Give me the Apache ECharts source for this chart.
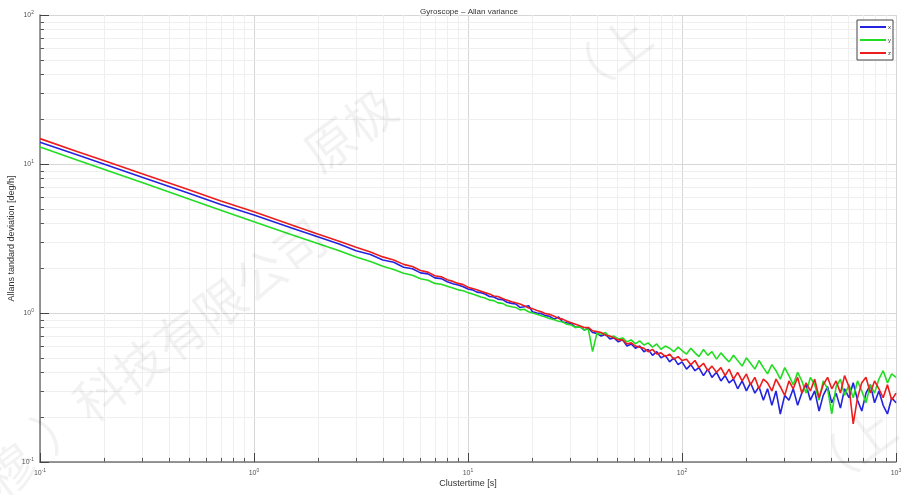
<!DOCTYPE html>
<html><head><meta charset="utf-8">
<script src="https://cdn.jsdelivr.net/npm/echarts@6/dist/echarts.min.js"></script>
<style>html,body{margin:0;padding:0;background:#fff}#c{width:901px;height:495px}</style>
</head><body><div id="c"></div>
<script>
const tau = [0.1,0.15,0.2,0.3,0.5,0.7,1,1.5,2,2.5,
3,3.5,4,4.5,5,5.5,6,6.5,7,7.5,8,8.5,9,9.5,
10,10.5,11,11.5,12,12.6,13.2,13.8,14.5,15.2,
16,16.7,17.5,18.3,19.2,20,21,22,23,24,
25.3,26.5,27.7,29,30.4,31.8,33.3,34.9,36.5,38.2,
40,41.9,43.9,46,48.1,50.4,52.8,55.3,57.9,60.6,
63.4,66.4,69.5,72.8,76.2,79.8,83.6,87.5,91.6,95.9,
100,105,110,115,120,126,132,138,145,152,
159,166,174,182,191,200,209,219,229,240,
251,263,275,288,302,316,331,347,363,380,
398,417,437,457,479,501,525,550,575,603,
631,661,692,724,759,794,832,871,912,955,
1000];
const devX = [14.0,11.5,9.95,8.15,6.35,5.35,4.55,3.72,3.24,2.90,
2.62,2.47,2.27,2.19,2.03,1.98,1.86,1.83,1.72,1.70,1.62,1.57,1.54,1.50,
1.45,1.43,1.38,1.37,1.34,1.29,1.28,1.24,1.23,1.18,
1.16,1.15,1.09,1.10,1.12,1.02,1.00,0.99,0.96,0.95,
0.91,0.94,0.87,0.86,0.85,0.80,0.81,0.77,0.79,0.74,
0.73,0.70,0.72,0.67,0.68,0.64,0.66,0.60,0.62,0.58,
0.60,0.55,0.57,0.52,0.55,0.50,0.52,0.47,0.50,0.45,
0.47,0.42,0.45,0.41,0.43,0.38,0.42,0.37,0.40,0.35,
0.38,0.34,0.36,0.31,0.35,0.30,0.34,0.29,0.32,0.26,
0.31,0.24,0.30,0.21,0.28,0.26,0.31,0.24,0.29,0.33,
0.26,0.30,0.22,0.28,0.32,0.25,0.29,0.23,0.31,0.27,
0.34,0.26,0.22,0.29,0.33,0.25,0.30,0.24,0.21,0.27,
0.25];
const devY = [13.0,10.6,9.2,7.5,5.8,4.9,4.1,3.35,2.92,2.62,
2.38,2.22,2.06,1.96,1.85,1.79,1.70,1.66,1.58,1.56,1.51,1.47,1.43,1.41,
1.37,1.34,1.31,1.28,1.26,1.22,1.21,1.17,1.16,1.12,
1.10,1.09,1.05,1.06,1.02,1.00,0.98,0.96,0.94,0.92,
0.90,0.88,0.87,0.84,0.83,0.80,0.81,0.77,0.78,0.55,
0.73,0.72,0.74,0.69,0.70,0.67,0.68,0.64,0.66,0.62,
0.65,0.61,0.63,0.59,0.62,0.57,0.60,0.58,0.55,0.59,
0.56,0.53,0.58,0.54,0.51,0.57,0.52,0.55,0.49,0.54,
0.50,0.47,0.52,0.48,0.44,0.50,0.46,0.42,0.48,0.43,
0.39,0.45,0.41,0.36,0.43,0.38,0.33,0.40,0.35,0.29,
0.37,0.33,0.26,0.35,0.31,0.21,0.32,0.36,0.28,0.33,
0.27,0.35,0.30,0.25,0.33,0.29,0.36,0.41,0.34,0.39,
0.37];
const devZ = [14.8,12.1,10.5,8.6,6.7,5.65,4.78,3.90,3.38,3.03,
2.76,2.57,2.38,2.27,2.12,2.05,1.93,1.88,1.78,1.75,1.67,1.63,1.58,1.55,
1.49,1.46,1.43,1.40,1.37,1.34,1.30,1.29,1.25,1.22,
1.19,1.17,1.15,1.12,1.08,1.07,1.04,1.02,0.99,0.98,
0.95,0.92,0.91,0.88,0.86,0.84,0.82,0.80,0.80,0.76,
0.75,0.74,0.71,0.70,0.68,0.66,0.66,0.62,0.63,0.60,
0.59,0.58,0.55,0.57,0.53,0.54,0.51,0.53,0.49,0.51,
0.48,0.49,0.45,0.48,0.43,0.46,0.41,0.44,0.40,0.43,
0.38,0.42,0.36,0.40,0.35,0.39,0.33,0.37,0.31,0.36,
0.34,0.30,0.36,0.32,0.28,0.35,0.31,0.37,0.29,0.34,
0.30,0.36,0.27,0.33,0.37,0.31,0.35,0.29,0.38,0.32,
0.18,0.27,0.34,0.37,0.29,0.35,0.31,0.27,0.33,0.26,
0.29];
const seriesNames = ['x','y','z'];
const xDecades = [0.1,1,10,100];
const yDecades = [0.1,1,10];
const titleText = 'Gyroscope – Allan variance';
const xName = 'Clustertime [s]';
const yName = 'Allans tandard deviation [deg/h]';

const pts = arr => tau.map((t,i)=>[t,arr[i]]);
const minorGrid = {color:'#efefef', width:1, type:'solid'};
const tickStyle = {color:'#555', width:1, type:'solid'};
const ml = [];
xDecades.forEach(d=>{for(let m=2;m<=9;m++){const v=+(d*m).toPrecision(3);
  ml.push({xAxis:v, lineStyle:minorGrid});
  ml.push([{coord:[v,0.1],lineStyle:tickStyle},{coord:[v,0.1066]}]);}});
yDecades.forEach(d=>{for(let m=2;m<=9;m++){const v=+(d*m).toPrecision(3);
  ml.push({yAxis:v, lineStyle:minorGrid});
  ml.push([{coord:[0.1,v],lineStyle:tickStyle},{coord:[0.1044,v]}]);}});

const fmt = v => { const e = Math.round(Math.log10(v)); return '{b|10}{s|' + e + '}'; };
const rich = {b:{fontSize:7,color:'#555',fontFamily:'Liberation Sans'}, s:{fontSize:5,color:'#555',padding:[0,0,5,0],fontFamily:'Liberation Sans'}};

const wmStyle = t => ({text:t, fill:'rgba(0,0,0,0.05)', fontSize:50, fontFamily:'Noto Sans CJK SC', align:'center', verticalAlign:'middle'});
const wm = (t,x,y) => ({type:'text', x:x, y:y, rotation:0.64, z:100, silent:true, style:wmStyle(t)});

const chart = echarts.init(document.getElementById('c'), null, {renderer:'canvas'});
chart.setOption({
  animation:false,
  backgroundColor:'#fff',
  title:{text:titleText,left:464,top:3,textAlign:'center',textStyle:{fontSize:8,fontWeight:'normal',color:'#333',fontFamily:'Liberation Sans'}},
  legend:{data:seriesNames,orient:'vertical',right:8,top:20,itemWidth:26,itemHeight:2,itemGap:7,icon:'rect',
    borderColor:'#444',borderWidth:1,padding:[4,2,4,3],backgroundColor:'#fff',
    itemStyle:{borderWidth:0},
    textStyle:{fontSize:6,color:'#333',padding:[0,0,0,-3]}},
  grid:{left:40,right:5,top:15,bottom:33,containLabel:false,outerBoundsMode:'none'},
  xAxis:{type:'log',logBase:10,min:0.1,max:1000,
    name:xName,nameLocation:'middle',nameGap:17,nameMoveOverlap:false,nameTextStyle:{fontSize:9,color:'#333',fontFamily:'Liberation Sans'},
    axisLine:{show:true,onZero:false,lineStyle:{color:'#777',width:1.5}},
    axisTick:{show:true,inside:true,length:9,lineStyle:{color:'#444'}},
    axisLabel:{formatter:fmt,rich:rich,margin:6},
    splitLine:{show:true,lineStyle:{color:'#d6d6d6',width:1}},minorTick:{show:false},minorSplitLine:{show:false}},
  yAxis:{type:'log',logBase:10,min:0.1,max:100,
    name:yName,nameLocation:'middle',nameGap:24,nameMoveOverlap:false,nameTextStyle:{fontSize:9,color:'#333',fontFamily:'Liberation Sans'},
    axisLine:{show:true,onZero:false,lineStyle:{color:'#777',width:1.5}},
    axisTick:{show:true,inside:true,length:9,lineStyle:{color:'#444'}},
    axisLabel:{formatter:fmt,rich:rich,margin:6},
    splitLine:{show:true,lineStyle:{color:'#d6d6d6',width:1}},minorTick:{show:false},minorSplitLine:{show:false}},
  graphic:[
    wm('）科技有限公司',180,335),
    wm('原极',350,130),
    wm('（上',605,58),
    wm('（上',850,450),
    wm('穆',10,470)
  ],
  series:[
    {name:'grid',type:'line',data:[[1,1]],symbol:'none',lineStyle:{opacity:0},z:0,silent:true,
     markLine:{silent:true,z:0,symbol:['none','none'],label:{show:false},animation:false,data:ml}},
    {name:'x',type:'line',data:pts(devX),symbol:'none',lineStyle:{color:'#2323e0',width:1.6},itemStyle:{color:'#2323e0'},z:10},
    {name:'y',type:'line',data:pts(devY),symbol:'none',lineStyle:{color:'#22dd22',width:1.6},itemStyle:{color:'#22dd22'},z:11},
    {name:'z',type:'line',data:pts(devZ),symbol:'none',lineStyle:{color:'#ee1c1c',width:1.6},itemStyle:{color:'#ee1c1c'},z:12}
  ]
});
</script></body></html>
